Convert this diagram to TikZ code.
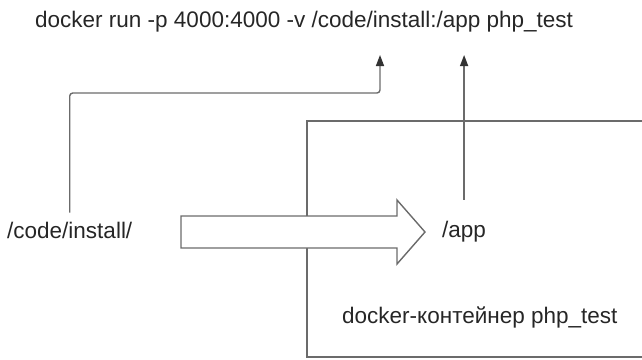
\documentclass[tikz,border=0pt]{standalone}
\usepackage{fontspec}
\setmainfont{Liberation Sans}
\usetikzlibrary{arrows.meta}
\begin{document}
\begin{tikzpicture}[x=1pt, y=-1pt,
		txt/.style = {font=\fontsize{22.5}{27}\selectfont, text=black!85, anchor=base west, inner sep=0pt},
		line/.style = {draw=black!58, line width=1.4pt},
		conn/.style = {line, rounded corners=3pt, -{Triangle[length=11pt, width=8pt, color=black!80]}}]
		\useasboundingbox (0,0) rectangle (642,359);

		\node[txt] (cmd) at (35,27) {docker run -p 4000:4000 -v /code/install:/app php\_test};
		\node[txt] (src) at (7,238) {/code/install/};
		\node[txt] (app) at (442,237) {/app};
		\node[txt] (cont) at (342,323) {docker-контейнер php\_test};

		\coordinate (bend) at (380,93);
		\coordinate (tip1) at (380,55);
		\coordinate (tip2) at (app.north |- tip1);

		% container
		\draw[line] (642,121) -- (307,121) -- (307,357) -- (642,357);

		% mount arrow
		\draw[line, fill=white] (181,216) -- (397,216) -- (397,200) -- (425,232)
			-- (397,264) -- (397,248) -- (181,248) -- cycle;

		\draw[conn, shorten <=9pt] (src.north) |- (bend) -- (tip1);
		\draw[conn, shorten <=21pt] (app.north) -- (tip2);
	\end{tikzpicture}
\end{document}
